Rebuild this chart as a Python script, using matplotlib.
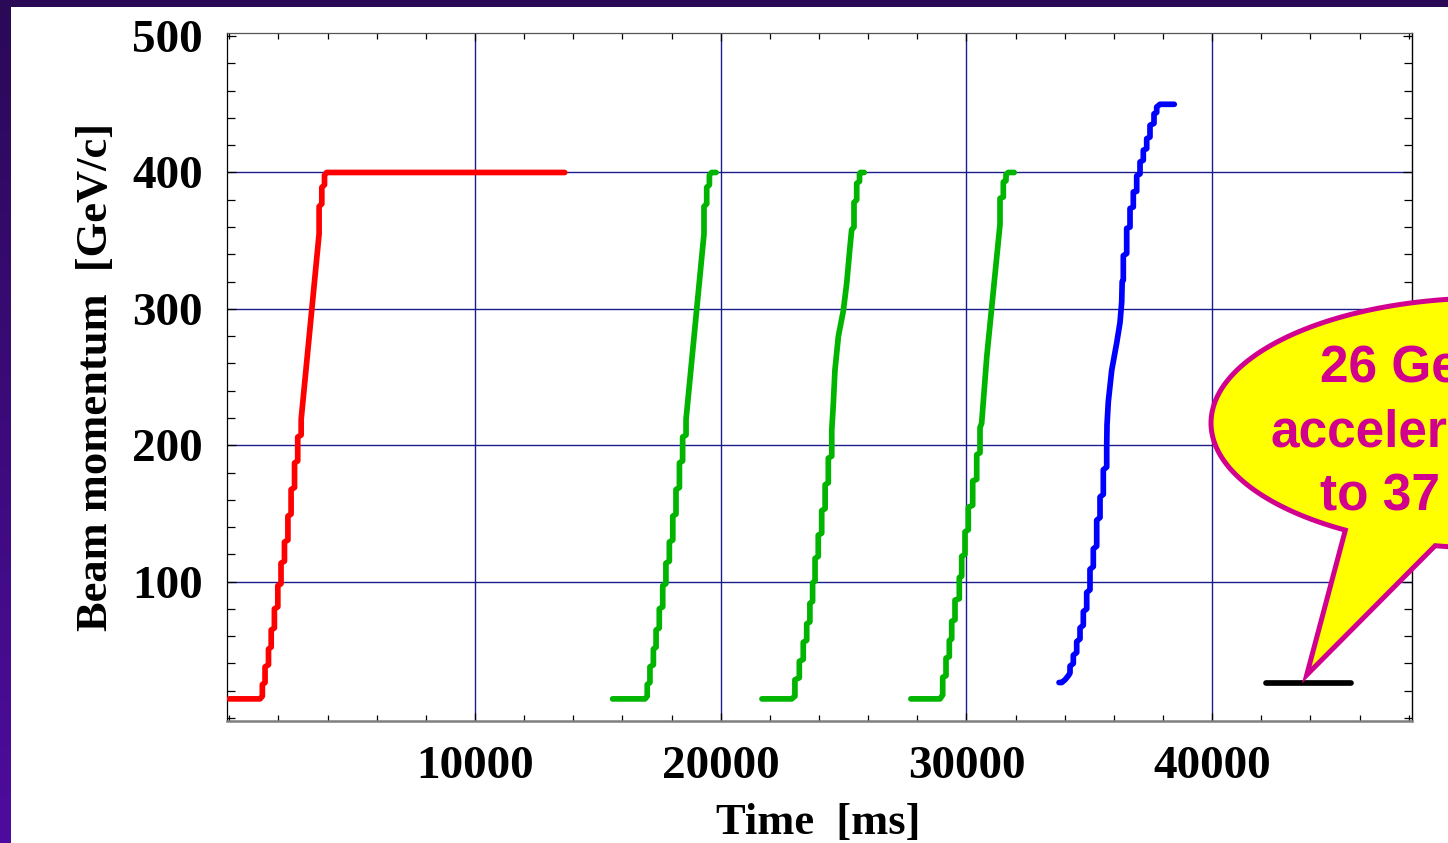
import numpy as np
import matplotlib
matplotlib.use("Agg")
import matplotlib.pyplot as plt
from matplotlib.patches import Polygon, Rectangle
from matplotlib.colors import LinearSegmentedColormap
from matplotlib.ticker import MultipleLocator

# SPS supercycle: beam momentum [GeV/c] vs time [ms]
red_t = [0, 1250, 1345, 1345, 1455, 1455, 1595, 1595, 1705, 1705, 1835, 1835,
         1975, 1975, 2105, 2105, 2245, 2245, 2385, 2385, 2515, 2515, 2655, 2655,
         2785, 2785, 2925, 2925, 3655, 3655, 3765, 3765, 3875, 3875, 3965, 13650]
red_p = [14, 14, 16, 24.5, 26, 37.5, 39, 50.5, 52, 64.5, 66, 80,
         81.5, 97, 98.5, 113.5, 115, 129, 130.5, 148, 149.5, 167.5, 169, 187,
         188.5, 206, 207.5, 219, 355, 375, 377, 389, 391, 398, 400, 400]

green1_t = [15600, 16920, 17010, 17010, 17120, 17120, 17260, 17260, 17370, 17370,
            17500, 17500, 17640, 17640, 17770, 17770, 17910, 17910, 18050, 18050,
            18180, 18180, 18320, 18320, 18450, 18450, 18590, 18590, 19320, 19320,
            19430, 19430, 19540, 19540, 19630, 19810]
green1_p = [14, 14, 16, 24.5, 26, 37.5, 39, 50.5, 52, 64.5,
            66, 80, 81.5, 97, 98.5, 113.5, 115, 129, 130.5, 148,
            149.5, 167.5, 169, 187, 188.5, 206, 207.5, 219, 355, 375,
            377, 389, 391, 398, 400, 400]

green2_t = [21680, 22890, 23020, 23020, 23200, 23200, 23360, 23360, 23500, 23500,
            23630, 23630, 23740, 23740, 23840, 23840, 23970, 23970, 24110, 24110,
            24250, 24250, 24380, 24380, 24520, 24520, 24580, 24650, 24790, 24990,
            25130, 25260, 25330, 25425, 25425, 25535, 25535, 25650, 25650, 25690,
            25840]
green2_p = [14, 14, 16, 28, 29.5, 41.5, 43, 55.5, 57, 69,
            70.5, 84, 85.5, 99, 100.5, 117, 118.5, 134, 135.5, 152,
            153.5, 171, 172.5, 190.5, 192, 211, 229, 255, 280, 298.5,
            319, 345, 358, 360, 378, 380, 392, 393.5, 399, 400,
            400]

green3_t = [27740, 28925, 29035, 29035, 29170, 29170, 29304, 29304, 29402, 29402,
            29536, 29536, 29711, 29711, 29809, 29809, 29943, 29943, 30077, 30077,
            30256, 30256, 30419, 30419, 30554, 30554, 30620, 30830, 31368, 31368,
            31502, 31502, 31612, 31612, 31705, 31945]
green3_p = [14, 14, 16.9, 29.8, 31, 43.9, 45, 56.8, 58, 70.9,
            72, 86.4, 87.5, 103, 104, 118.5, 120, 136.5, 138, 154.5,
            156, 173.8, 175, 193, 194.5, 213, 216, 265, 362, 381,
            382, 393, 394, 398.5, 400, 400]

blue_t = [33770, 33880, 34013, 34148, 34217, 34217, 34351, 34351, 34489, 34489,
          34624, 34624, 34758, 34758, 34896, 34896, 35030, 35030, 35165, 35165,
          35303, 35303, 35438, 35438, 35572, 35572, 35710, 35710, 35723, 35776,
          35914, 36117, 36252, 36321, 36340, 36386, 36386, 36524, 36524, 36659,
          36659, 36793, 36793, 36931, 36931, 37066, 37066, 37200, 37200, 37338,
          37338, 37472, 37472, 37635, 37635, 37745, 37745, 37880, 38460]
blue_p = [26, 26, 28, 31, 33, 38, 40, 46, 48, 56,
          58, 66, 68, 78, 80, 92, 94, 109, 111, 124,
          126, 145, 147, 162, 164, 182, 184, 199, 215, 232,
          255, 275, 290, 305, 320, 321, 339, 340.6, 359, 360,
          373.6, 374.7, 385.7, 386.2, 397.6, 399, 407.7, 409, 416.3, 417.5,
          424.8, 426, 434.6, 436, 443, 444, 448, 450, 450]

black_t = [42180, 45650]
black_p = [26, 26]

x_ticks = [10000, 20000, 30000, 40000]
y_ticks = [100, 200, 300, 400, 500]
grid_y = [100, 200, 300, 400]

callout_lines = ["26 GeV/c", "accelerated", "to 37 GeV/c"]

W, H = 1448, 843
fig = plt.figure(figsize=(W / 100, H / 100), dpi=100)

# purple slide background with white page
bg = fig.add_axes([0, 0, 1, 1], zorder=0)
cmap = LinearSegmentedColormap.from_list("slide", ["#2a0957", "#4e0c9e"])
bg.imshow(np.linspace(0, 1, 256).reshape(-1, 1), aspect="auto", cmap=cmap,
          extent=[0, W, H, 0])
bg.add_patch(Rectangle((11, 7), W, H, facecolor="white", edgecolor="none"))
bg.set_xlim(0, W)
bg.set_ylim(H, 0)
bg.axis("off")

ax = fig.add_axes([226.7 / W, (H - 720.7) / H, (1412.3 - 226.7) / W, (720.7 - 32.7) / H],
                  zorder=1)
ax.set_facecolor("white")

serif = "Liberation Serif"
lw = 4.1
style = dict(lw=lw, solid_capstyle="round", solid_joinstyle="round", zorder=3)
ax.plot(red_t, red_p, color="#ff0000", **style)
for gt, gp in [(green1_t, green1_p), (green2_t, green2_p), (green3_t, green3_p)]:
    ax.plot(gt, gp, color="#00b400", **style)
ax.plot(blue_t, blue_p, color="#0000ff", **style)
ax.plot(black_t, black_p, color="black", **style)

ax.set_xlim(-106, 48148)
ax.set_ylim(-2, 502.5)

for gx in x_ticks:
    ax.axvline(gx, color="#1c1c8c", lw=1.0, zorder=1)
for gy in grid_y:
    ax.axhline(gy, color="#1c1c8c", lw=1.0, zorder=1)

ax.set_xticks(x_ticks)
ax.set_yticks(y_ticks)
ax.xaxis.set_minor_locator(MultipleLocator(2000))
ax.yaxis.set_minor_locator(MultipleLocator(20))
ax.tick_params(axis="both", which="both", direction="in", top=True, right=True,
               color="black", width=0.9)
ax.tick_params(axis="x", which="major", length=5.5, pad=18.5)
ax.tick_params(axis="x", which="minor", length=4.3)
ax.tick_params(axis="y", which="major", length=6.5, pad=17)
ax.tick_params(axis="y", which="minor", length=6.0)
for lab in ax.get_xticklabels() + ax.get_yticklabels():
    lab.set_fontfamily(serif)
    lab.set_fontweight("bold")
    lab.set_fontsize(34)

ax.spines["left"].set_color("black")
ax.spines["left"].set_linewidth(0.9)
ax.spines["right"].set_color("black")
ax.spines["right"].set_linewidth(1.0)
ax.spines["top"].set_color("#555555")
ax.spines["top"].set_linewidth(0.9)
ax.spines["bottom"].set_color("#7f7f7f")
ax.spines["bottom"].set_linewidth(1.8)

ax.set_xlabel("Time  [ms]", fontfamily=serif, fontweight="bold", fontsize=32)
ax.xaxis.set_label_coords(0.499, -0.119)
ax.xaxis.label.set_va("top")
ax.set_ylabel("Beam momentum  [GeV/c]", fontfamily=serif, fontweight="bold", fontsize=32)
ax.yaxis.set_label_coords(-0.093, 0.5)

# speech-bubble callout (pixel coordinates of the slide)
ov = fig.add_axes([0, 0, 1, 1], zorder=2)
ov.set_xlim(0, W)
ov.set_ylim(H, 0)
ov.axis("off")
cx, cy, a, b = 1488, 423, 277, 125
theta = np.radians(np.linspace(121, 461, 200))
pts = list(zip(cx + a * np.cos(theta), cy + b * np.sin(theta)))
pts.append((1306.7, 675))
ov.add_patch(Polygon(pts, closed=True, facecolor="#ffff00", edgecolor="#d1008f",
                     lw=3.6, joinstyle="miter"))
sans = "Liberation Sans"
for (tx, ty), line in zip([(1320, 381.7), (1270, 446.7), (1320, 510)], callout_lines):
    ov.text(tx, ty, line, ha="left", va="baseline", color="#d1008f",
            fontfamily=sans, fontweight="bold", fontsize=37)

fig.savefig("out.png", dpi=100)
